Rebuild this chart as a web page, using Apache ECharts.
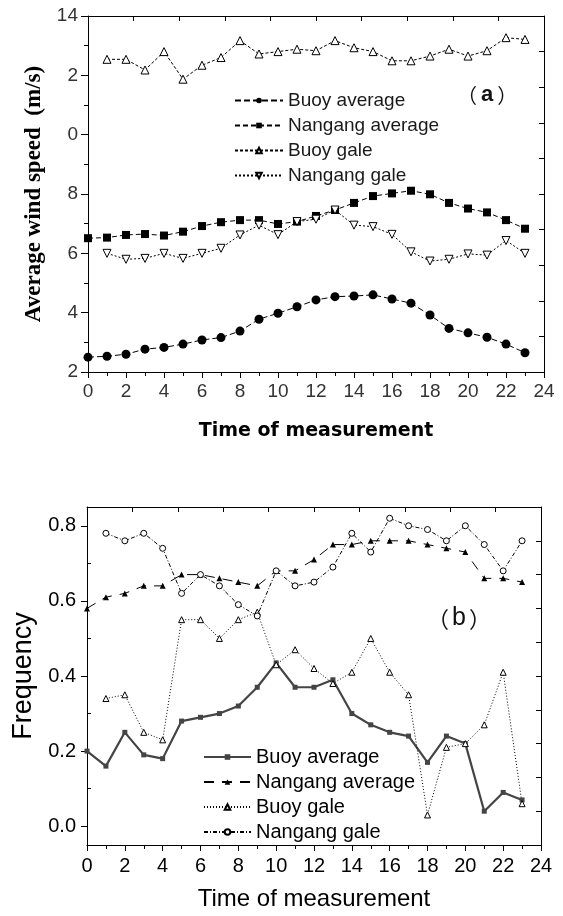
<!DOCTYPE html>
<html>
<head>
<meta charset="utf-8">
<script src="https://cdn.jsdelivr.net/npm/echarts@6/dist/echarts.min.js"></script>
<style>
    html, body { margin: 0; padding: 0; background: #fff; }
    #chart { width: 563px; height: 916px; }
</style>
</head>
<body>
<div id="chart"></div>
<script>
    // hours of measurement (shared by both panels)
    const hours = [0,1,2,3,4,5,6,7,8,9,10,11,12,13,14,15,16,17,18,19,20,21,22,23];

    // (a) average wind speed, m/s
    const buoyAvgA    = [2.50,2.53,2.60,2.77,2.83,2.94,3.08,3.16,3.38,3.78,3.98,4.20,4.43,4.54,4.56,4.60,4.46,4.32,3.92,3.47,3.32,3.17,2.94,2.65];
    const nangangAvgA = [6.51,6.53,6.62,6.65,6.60,6.73,6.92,7.05,7.12,7.12,6.99,7.07,7.26,7.46,7.70,7.93,8.02,8.11,7.99,7.70,7.51,7.38,7.12,6.83];
    const buoyGaleA   = [null,12.54,12.54,12.18,12.80,11.87,12.34,12.60,13.17,12.72,12.80,12.88,12.83,13.17,12.93,12.80,12.49,12.49,12.65,12.88,12.65,12.83,13.27,13.21];
    const nangangGaleA= [null,6.00,5.80,5.83,6.00,5.83,6.00,6.17,6.62,6.95,6.63,7.07,7.15,7.46,6.95,6.90,6.64,6.05,5.74,5.80,5.98,5.94,6.43,6.00];
    const yTickLabelsA = ['2','4','6','8','0','2','14'];

    // (b) frequency
    const buoyAvgB    = [0.20,0.16,0.25,0.19,0.18,0.28,0.29,0.30,0.32,0.37,0.435,0.37,0.37,0.39,0.30,0.27,0.25,0.24,0.17,0.24,0.22,0.04,0.09,0.07];
    const nangangAvgB = [0.58,0.61,0.62,0.64,0.64,0.67,0.67,0.66,0.65,0.64,0.68,0.68,0.71,0.75,0.75,0.76,0.76,0.76,0.75,0.74,0.73,0.66,0.66,0.65];
    const buoyGaleB   = [null,0.34,0.35,0.25,0.23,0.55,0.55,0.50,0.55,0.57,0.43,0.47,0.42,0.38,0.41,0.50,0.41,0.35,0.03,0.21,0.22,0.27,0.41,0.06];
    const nangangGaleB= [null,0.78,0.76,0.78,0.74,0.62,0.67,0.64,0.59,0.56,0.68,0.64,0.65,0.69,0.78,0.73,0.82,0.80,0.79,0.76,0.80,0.75,0.68,0.76];
    const yTicksB = [0, 0.2, 0.4, 0.6, 0.8];
    const yMinorTicksB = [0.1, 0.3, 0.5, 0.7];

    const names = ['Buoy average', 'Nangang average', 'Buoy gale', 'Nangang gale'];

    function pairs(vals) {
        return hours.map(function (h, i) { return [h, vals[i]]; });
    }

    const sans = '"Liberation Sans", Arial, sans-serif';
    const cjk = '"Noto Sans CJK SC", sans-serif';
    const txt = '#1a1a1a';

    // frame axis (top / right) with inward ticks, 10 divisions
    function frameX(gridIndex) {
        return {
            gridIndex: gridIndex, type: 'value', position: 'top', min: 0, max: 10, interval: 1,
            axisLine: { show: true, onZero: false, lineStyle: { color: '#000', width: 1 } },
            axisTick: { show: true, inside: true, length: 5, lineStyle: { color: '#000' } },
            axisLabel: { show: false }, splitLine: { show: false }
        };
    }
    function frameY(gridIndex) {
        return {
            gridIndex: gridIndex, type: 'value', position: 'right', min: 0, max: 10, interval: 1,
            axisLine: { show: true, onZero: false, lineStyle: { color: '#000', width: 1 } },
            axisTick: { show: true, inside: true, length: 5, lineStyle: { color: '#000' } },
            axisLabel: { show: false }, splitLine: { show: false }
        };
    }

    const chart = echarts.init(document.getElementById('chart'));
    chart.setOption({
        backgroundColor: '#fff',
        animation: false,
        title: [
            {
                text: '（{b|a}）', left: 452, top: 79,
                textStyle: { fontSize: 20, fontFamily: cjk, fontWeight: 'normal', color: '#111',
                    rich: { b: { fontSize: 22, fontWeight: 'bold', fontFamily: sans, color: '#111', padding: [0, 4] } } }
            },
            {
                text: '（{b|b}）', left: 422, top: 601,
                textStyle: { fontSize: 22, fontFamily: cjk, fontWeight: 'normal', color: '#111',
                    rich: { b: { fontSize: 25, fontFamily: sans, color: '#111', padding: [0, 3] } } }
            }
        ],
        grid: [
            { left: 88, top: 16, width: 456, height: 356 },
            { left: 87, top: 507, width: 454, height: 338 }
        ],
        legend: [
            {
                orient: 'vertical', left: 229, top: 86, itemGap: 6, itemWidth: 48, itemHeight: 7,
                data: names,
                textStyle: { fontSize: 19, fontFamily: sans, color: txt }
            },
            {
                orient: 'vertical', left: 198, top: 742, itemGap: 5, itemWidth: 47, itemHeight: 7,
                data: names.map(function (n) { return n + ' (b)'; }),
                formatter: function (n) { return n.replace(' (b)', ''); },
                textStyle: { fontSize: 20, fontFamily: sans, color: '#000' }
            }
        ],
        xAxis: [
            {
                gridIndex: 0, type: 'value', min: 0, max: 24, interval: 2,
                name: 'Time of measurement', nameLocation: 'middle', nameGap: 50,
                nameTextStyle: { fontSize: 19, fontWeight: 'bold', fontFamily: '"DejaVu Sans", sans-serif', color: '#000' },
                axisLine: { show: true, onZero: false, lineStyle: { color: '#000' } },
                axisTick: { length: 6, lineStyle: { color: '#000' } },
                minorTick: { show: true, splitNumber: 2, length: 4, lineStyle: { color: '#000' } },
                axisLabel: { margin: 10, fontSize: 19, fontFamily: sans, color: '#333' },
                splitLine: { show: false }
            },
            frameX(0),
            {
                gridIndex: 1, type: 'value', min: 0, max: 24, interval: 2,
                name: 'Time of measurement', nameLocation: 'middle', nameGap: 42,
                nameTextStyle: { fontSize: 24, fontFamily: sans, color: '#000' },
                axisLine: { show: true, onZero: false, lineStyle: { color: '#000' } },
                axisTick: { length: 6, lineStyle: { color: '#000' } },
                minorTick: { show: true, splitNumber: 2, length: 4, lineStyle: { color: '#000' } },
                axisLabel: { margin: 11, fontSize: 20, fontFamily: sans, color: '#000' },
                splitLine: { show: false }
            },
            frameX(1)
        ],
        yAxis: [
            {
                gridIndex: 0, type: 'value', min: 2, max: 14, interval: 2,
                name: 'Average wind speed  (m/s)', nameLocation: 'middle', nameGap: 38,
                nameTextStyle: { fontSize: 23, fontWeight: 'bold', fontFamily: '"Liberation Serif", "Times New Roman", serif', color: '#000' },
                axisLine: { show: true, onZero: false, lineStyle: { color: '#000' } },
                axisTick: { length: 7, lineStyle: { color: '#000' } },
                minorTick: { show: true, splitNumber: 2, length: 4, lineStyle: { color: '#000' } },
                axisLabel: {
                    margin: 10, fontSize: 19, fontFamily: sans, color: '#333',
                    formatter: function (v) { return yTickLabelsA[Math.round((v - 2) / 2)]; }
                },
                splitLine: { show: false }
            },
            frameY(0),
            {
                gridIndex: 1, type: 'value', min: -0.05, max: 0.85,
                name: 'Frequency', nameLocation: 'middle', nameGap: 47,
                nameTextStyle: { fontSize: 27, fontFamily: sans, color: '#000' },
                axisLine: { show: true, onZero: false, lineStyle: { color: '#000' } },
                axisTick: { length: 6, customValues: yTicksB, lineStyle: { color: '#000' } },
                axisLabel: {
                    margin: 11, fontSize: 20, fontFamily: sans, color: '#000',
                    customValues: yTicksB,
                    formatter: function (v) { return v.toFixed(1); }
                },
                splitLine: { show: false }
            },
            frameY(1),
            {
                gridIndex: 1, type: 'value', min: -0.05, max: 0.85,
                axisLine: { show: false },
                axisTick: { show: true, length: 4, customValues: yMinorTicksB, lineStyle: { color: '#000' } },
                axisLabel: { show: false, customValues: yMinorTicksB },
                splitLine: { show: false }
            }
        ],
        series: [
            // (a)
            {
                name: names[0], type: 'line', xAxisIndex: 0, yAxisIndex: 0, data: pairs(buoyAvgA),
                symbol: 'circle', symbolSize: 9,
                lineStyle: { color: '#000', width: 1, type: [6, 3] }, itemStyle: { color: '#000' }
            },
            {
                name: names[1], type: 'line', xAxisIndex: 0, yAxisIndex: 0, data: pairs(nangangAvgA),
                symbol: 'rect', symbolSize: 8,
                lineStyle: { color: '#000', width: 1, type: [5, 3] }, itemStyle: { color: '#000' }
            },
            {
                name: names[2], type: 'line', xAxisIndex: 0, yAxisIndex: 0, data: pairs(buoyGaleA),
                symbol: 'triangle', symbolSize: 8,
                lineStyle: { color: '#000', width: 1, type: [3, 2] },
                itemStyle: { color: '#fff', borderColor: '#000', borderWidth: 1 }
            },
            {
                name: names[3], type: 'line', xAxisIndex: 0, yAxisIndex: 0, data: pairs(nangangGaleA),
                symbol: 'triangle', symbolRotate: 180, symbolSize: 8,
                lineStyle: { color: '#000', width: 1, type: [2, 2] },
                itemStyle: { color: '#fff', borderColor: '#000', borderWidth: 1 }
            },
            // (b)
            {
                name: names[0] + ' (b)', type: 'line', xAxisIndex: 2, yAxisIndex: 2, data: pairs(buoyAvgB),
                symbol: 'rect', symbolSize: 5,
                lineStyle: { color: '#444', width: 2.2 }, itemStyle: { color: '#444' }
            },
            {
                name: names[1] + ' (b)', type: 'line', xAxisIndex: 2, yAxisIndex: 2, data: pairs(nangangAvgB),
                symbol: 'triangle', symbolSize: 6,
                lineStyle: { color: '#000', width: 1, type: [10, 8] }, itemStyle: { color: '#000' }
            },
            {
                name: names[2] + ' (b)', type: 'line', xAxisIndex: 2, yAxisIndex: 2, data: pairs(buoyGaleB),
                symbol: 'triangle', symbolSize: 6,
                lineStyle: { color: '#000', width: 1, type: [1, 2] },
                itemStyle: { color: '#fff', borderColor: '#000', borderWidth: 1 }
            },
            {
                name: names[3] + ' (b)', type: 'line', xAxisIndex: 2, yAxisIndex: 2, data: pairs(nangangGaleB),
                symbol: 'circle', symbolSize: 6,
                lineStyle: { color: '#000', width: 1, type: [4, 2, 1, 2] },
                itemStyle: { color: '#fff', borderColor: '#000', borderWidth: 1 }
            }
        ]
    });
</script>
</body>
</html>
